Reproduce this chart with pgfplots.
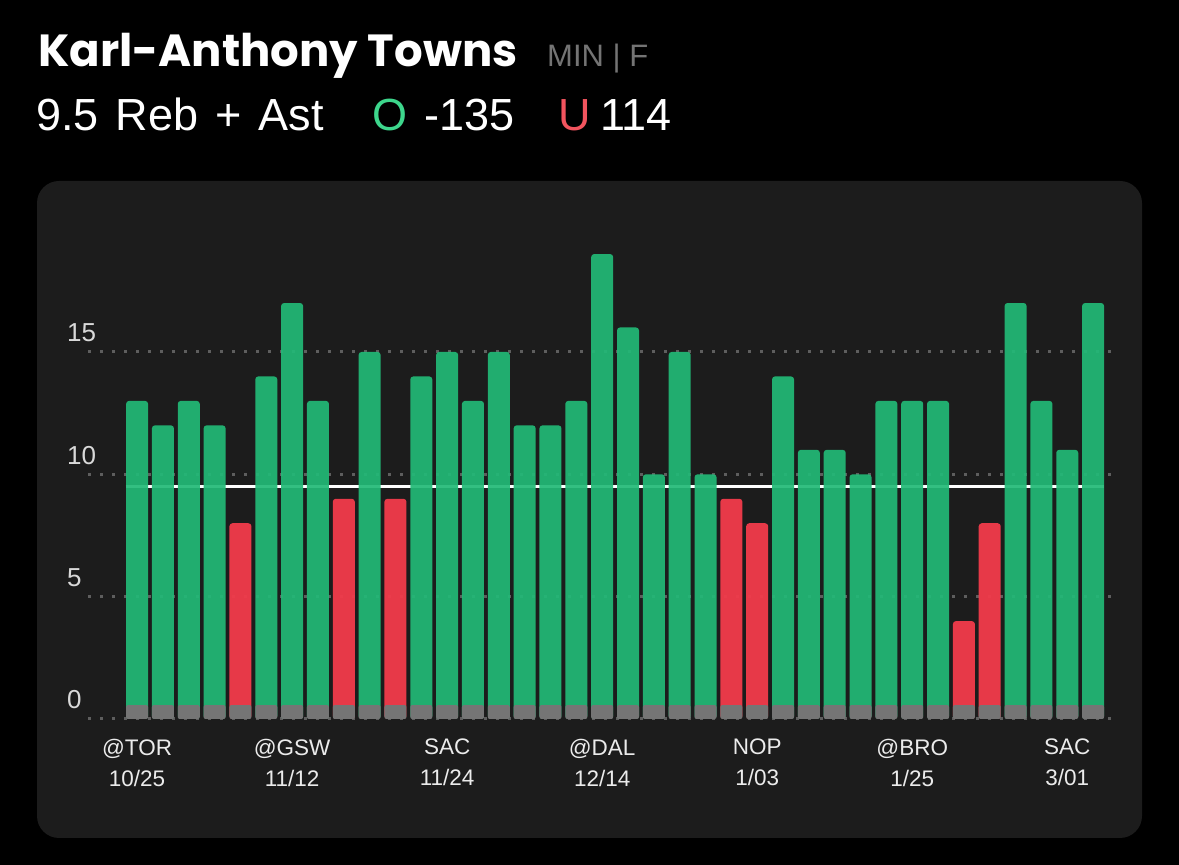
\documentclass[border=0pt]{standalone}
\usepackage{fontspec}
\setmainfont{Liberation Sans}
\newfontfamily\titlefont{Poppins}
\usepackage{pgfplots}
\pgfplotsset{compat=1.18}

\definecolor{bg}{HTML}{000000}
\definecolor{panel}{HTML}{1C1C1C}
\definecolor{overg}{HTML}{22BA77}
\definecolor{underr}{HTML}{F23B4B}
\definecolor{basegray}{HTML}{757575}
\definecolor{gridgray}{HTML}{5E5E5E}
\definecolor{ogreen}{HTML}{3DD68C}
\definecolor{ured}{HTML}{F2545E}
\definecolor{subgray}{HTML}{747474}

\newcommand{\hdr}{\fontsize{45}{48}\selectfont\spaceskip=0.38em\relax}

\begin{document}
\begin{tikzpicture}
% background and card
\fill[bg] (0pt,0pt) rectangle (1179pt,865pt);
\fill[panel, rounded corners=22pt] (37pt,27pt) rectangle (1142pt,684pt);

% header
\node[anchor=base west, inner sep=0pt, text=white] at (38pt,798pt)
  {\titlefont\bfseries\fontsize{45}{50}\selectfont Karl-Anthony Towns};
\node[anchor=base west, inner sep=0pt, text=subgray] at (547pt,798pt)
  {\fontsize{31}{34}\selectfont MIN | F};
\node[anchor=base west, inner sep=0pt, text=white] at (36pt,734pt) {\hdr 9.5 Reb + Ast};
\node[anchor=base west, inner sep=0pt, text=ogreen] at (372pt,734pt) {\hdr O};
\node[anchor=base west, inner sep=0pt, text=white] at (424pt,734pt) {\hdr -135};
\node[anchor=base west, inner sep=0pt, text=ured] at (558pt,734pt) {\hdr U};
\node[anchor=base west, inner sep=0pt, text=white] at (600pt,734pt) {\hdr 114};

\begin{axis}[
    at={(88pt,146pt)}, anchor=south west,
    scale only axis,
    width=1025pt, height=489.4pt,
    xmin=-1.9, xmax=37.77,
    ymin=0, ymax=20,
    axis line style={draw=none},
    major tick length=0pt,
    /pgf/number format/assume math mode=true,
    ytick={0,5,10,15},
    yticklabel style={anchor=base west, xshift=-21pt, yshift=10pt,
      inner sep=0pt, text=white!85!black, font=\fontsize{26}{28}\selectfont},
    xtick={0,6,12,18,24,30,36},
    xticklabels={{@TOR\\10/25},{@GSW\\11/12},{SAC\\11/24},{@DAL\\12/14},
                 {NOP\\1/03},{@BRO\\1/25},{SAC\\3/01}},
    xticklabel style={anchor=north, align=center, yshift=-20pt, inner sep=0pt,
      text=white!92!black, font=\fontsize{22.5}{31}\selectfont},
    ymajorgrids,
    major grid style={gridgray, line width=3pt, dash pattern=on 3pt off 9pt},
    clip=false,
]
% line at 9.5
\addplot[white, line width=3pt, forget plot] coordinates {(-0.43,9.5) (37.43,9.5)};

% over bars
\addplot[ybar, bar width=22pt, bar shift=0pt, fill=overg, draw=none,
  fill opacity=0.92, rounded corners=3pt] coordinates {
 (0,13) (1,12) (2,13) (3,12) (5,14) (6,17) (7,13) (9,15) (11,14) (12,15)
 (13,13) (14,15) (15,12) (16,12) (17,13) (18,19) (19,16) (20,10) (21,15)
 (22,10) (25,14) (26,11) (27,11) (28,10) (29,13) (30,13) (31,13) (34,17)
 (35,13) (36,11) (37,17)};

% under bars
\addplot[ybar, bar width=22pt, bar shift=0pt, fill=underr, draw=none,
  fill opacity=0.95, rounded corners=3pt] coordinates {
 (4,8) (8,9) (10,9) (23,9) (24,8) (32,4) (33,8)};

% grey base of every bar
\addplot[ybar, bar width=22pt, bar shift=0pt, fill=basegray, draw=none,
  rounded corners=2pt] coordinates {
 (0,0.57) (1,0.57) (2,0.57) (3,0.57) (4,0.57) (5,0.57) (6,0.57) (7,0.57)
 (8,0.57) (9,0.57) (10,0.57) (11,0.57) (12,0.57) (13,0.57) (14,0.57)
 (15,0.57) (16,0.57) (17,0.57) (18,0.57) (19,0.57) (20,0.57) (21,0.57)
 (22,0.57) (23,0.57) (24,0.57) (25,0.57) (26,0.57) (27,0.57) (28,0.57)
 (29,0.57) (30,0.57) (31,0.57) (32,0.57) (33,0.57) (34,0.57) (35,0.57)
 (36,0.57) (37,0.57)};
\end{axis}
\end{tikzpicture}
\end{document}
